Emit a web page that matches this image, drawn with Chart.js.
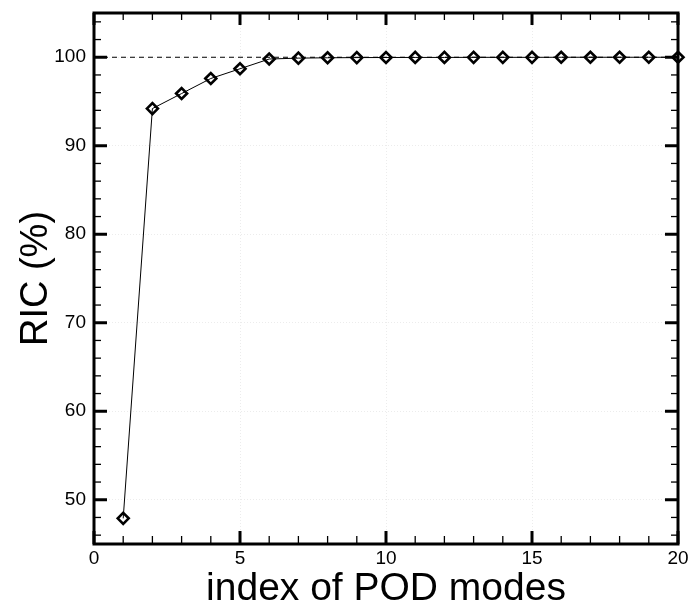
<!DOCTYPE html>
<html>
<head>
<meta charset="utf-8">
<script src="https://cdn.jsdelivr.net/npm/chart.js@4.4.1/dist/chart.umd.min.js"></script>
<style>
html,body{margin:0;padding:0;background:#fff;}
#wrap{width:688px;height:605px;}
</style>
</head>
<body>
<div id="wrap"><canvas id="c" width="688" height="605"></canvas></div>
<script>
// ---- data ----
const modeIndex = [1,2,3,4,5,6,7,8,9,10,11,12,13,14,15,16,17,18,19,20];
const ricPercent = [47.9, 94.2, 95.9, 97.6, 98.7, 99.8, 99.9, 99.94, 99.96, 99.97, 99.98, 99.98, 99.99, 99.99, 99.99, 100, 100, 100, 100, 100];
const refLineX = [0, 20];
const refLineY = [100, 100];
const xMajorTicks = [0, 5, 10, 15, 20];
const xMinorTicks = [1,2,3,4,6,7,8,9,11,12,13,14,16,17,18,19];
const yMajorTicks = [50, 60, 70, 80, 90, 100];
const yMinorTicks = [46,48,52,54,56,58,62,64,66,68,72,74,76,78,82,84,86,88,92,94,96,98,102,104];
const xTitle = 'index of POD modes';
const yTitle = 'RIC (%)';

const FONT = "'Liberation Sans', Arial, Helvetica, sans-serif";

const bgPlugin = {
  id: 'bg',
  beforeDraw(chart) {
    const ctx = chart.ctx;
    ctx.save();
    ctx.fillStyle = '#fff';
    ctx.fillRect(0, 0, chart.width, chart.height);
    ctx.restore();
  }
};

const framePlugin = {
  id: 'frame',
  beforeDatasetsDraw(chart) {
    const {ctx, chartArea: a, scales} = chart;
    const xs = scales.x, ys = scales.y;
    ctx.save();
    ctx.strokeStyle = '#000';
    ctx.lineCap = 'butt';
    const seg = (x1, y1, x2, y2, w) => {
      ctx.lineWidth = w;
      ctx.beginPath();
      ctx.moveTo(x1, y1);
      ctx.lineTo(x2, y2);
      ctx.stroke();
    };
    xMajorTicks.forEach(v => {
      const p = xs.getPixelForValue(v);
      seg(p, a.bottom, p, a.bottom - 13, 3);
      seg(p, a.top, p, a.top + 12, 3);
    });
    xMinorTicks.forEach(v => {
      const p = xs.getPixelForValue(v);
      seg(p, a.bottom, p, a.bottom - 8, 1.3);
      seg(p, a.top, p, a.top + 7, 1.3);
    });
    yMajorTicks.forEach(v => {
      const p = ys.getPixelForValue(v);
      seg(a.left, p, a.left + 13, p, 3);
      seg(a.right, p, a.right - 13, p, 3);
    });
    yMinorTicks.forEach(v => {
      const p = ys.getPixelForValue(v);
      seg(a.left, p, a.left + 7, p, 1.3);
      seg(a.right, p, a.right - 7, p, 1.3);
    });
    ctx.lineWidth = 3;
    ctx.strokeRect(a.left, a.top, a.right - a.left, a.bottom - a.top);
    ctx.restore();
  }
};

new Chart(document.getElementById('c'), {
  type: 'scatter',
  data: {
    datasets: [
      {
        label: 'RIC',
        data: modeIndex.map((x, i) => ({x: x, y: ricPercent[i]})),
        showLine: true,
        borderColor: '#000',
        borderWidth: 1,
        tension: 0,
        pointStyle: 'rectRot',
        pointRadius: 5.5,
        pointHoverRadius: 5.5,
        pointBorderWidth: 2.6,
        pointBorderColor: '#000',
        pointBackgroundColor: 'rgba(0,0,0,0)',
        clip: false
      },
      {
        label: '100%',
        data: refLineX.map((x, i) => ({x: x, y: refLineY[i]})),
        showLine: true,
        borderColor: '#000',
        borderWidth: 1,
        borderDash: [5, 4],
        pointRadius: 0,
        clip: false
      }
    ]
  },
  options: {
    responsive: false,
    animation: false,
    devicePixelRatio: 1,
    layout: { padding: { left: 0, right: 10, top: 13, bottom: 0 } },
    plugins: { legend: { display: false }, tooltip: { enabled: false } },
    scales: {
      x: {
        type: 'linear',
        min: 0, max: 20,
        afterBuildTicks: s => { s.ticks = xMajorTicks.map(v => ({value: v})); },
        afterFit: s => { s.height = 61; s.paddingLeft = 0; s.paddingRight = 0; },
        grid: { color: '#ececec', lineWidth: 1, drawTicks: false },
        border: { display: false, dash: [1, 2] },
        ticks: { color: '#000', padding: 3, maxRotation: 0, autoSkip: false, font: { family: FONT, size: 19 } },
        title: { display: true, text: xTitle, color: '#000', font: { family: FONT, size: 39, lineHeight: 0.82 }, padding: { top: 0, bottom: 0 } }
      },
      y: {
        type: 'linear',
        min: 45, max: 105,
        afterBuildTicks: s => { s.ticks = yMajorTicks.map(v => ({value: v})); },
        afterFit: s => { s.width = 94; s.paddingTop = 0; s.paddingBottom = 0; },
        grid: { color: '#ececec', lineWidth: 1, drawTicks: false },
        border: { display: false, dash: [1, 2] },
        ticks: { color: '#000', padding: 8, font: { family: FONT, size: 19 } },
        title: { display: true, text: yTitle, color: '#000', font: { family: FONT, size: 38, lineHeight: 1 }, padding: { top: 18, bottom: 0 } }
      }
    }
  },
  plugins: [bgPlugin, framePlugin]
});
</script>
</body>
</html>
